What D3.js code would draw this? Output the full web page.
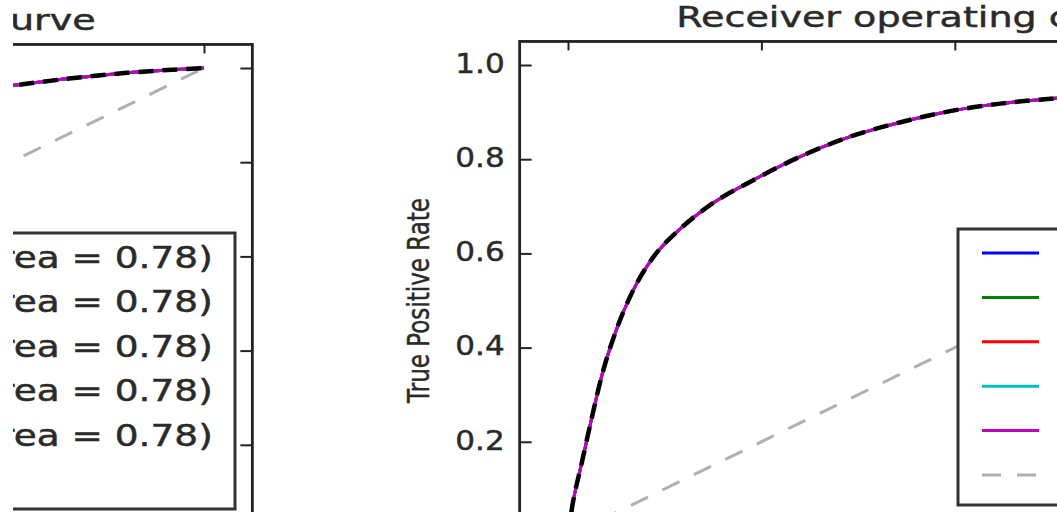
<!DOCTYPE html>
<html lang="en">
<head>
<meta charset="UTF-8">
<title>Receiver operating characteristic curve</title>
<script src="https://d3js.org/d3.v7.min.js"></script>
<style>
  body { margin: 0; background: #fff; }
  text { font-family: "DejaVu Sans", sans-serif; fill: #2a2a2a; stroke: #2a2a2a; stroke-width: 0.45px; }
</style>
</head>
<body>
<svg width="1057" height="512"></svg>
<script>
// ROC curve (false positive rate / true positive rate)
const fpr = [0, 0.0038, 0.0142, 0.0245, 0.0349, 0.0504, 0.0675, 0.0882, 0.116, 0.143, 0.192, 0.261, 0.292, 0.343, 0.395, 0.447, 0.502, 0.802, 0.858, 0.910, 1.0];
const tpr = [0, 0.055, 0.155, 0.250, 0.340, 0.440, 0.522, 0.592, 0.652, 0.697, 0.756, 0.824, 0.848, 0.878, 0.902, 0.918, 0.929, 0.963, 0.977, 0.988, 1.0];

// chance diagonal
const luckX = [0, 1];
const luckY = [0, 1];

const foldLabels = ["ROC fold 0 (area = 0.78)", "ROC fold 1 (area = 0.78)", "ROC fold 2 (area = 0.78)",
                    "ROC fold 3 (area = 0.78)", "ROC fold 4 (area = 0.78)"];
const foldColors = ["#0000ff", "#008000", "#ff0000", "#00bfbf", "#bf00bf"];
const luckLabel = "Luck";

const xTicks = [0, 0.2, 0.4, 0.6, 0.8, 1.0];
const yTicks = [0, 0.2, 0.4, 0.6, 0.8, 1.0];

const title = "Receiver operating characteristic curve";
const yLabel = "True Positive Rate";

const svg = d3.select("svg");
const W = 1057, H = 512;
const PX_X = 967, PX_Y = 471;   // pixels per unit on each axis

// two subplots, the left one only partly in the picture
const panels = [
    {id: "a", x0: -763, y0: 539, clipLeft: 13, legend: {top: 233, right: 235}},
    {id: "b", x0: 568, y0: 536, legend: {top: 229, left: 958}}
];

function styleTicks(a) {
    a.select(".domain").remove();
    a.selectAll("line").attr("stroke", "#222").attr("stroke-width", 2);
}

function drawPanel(p) {
    let g = svg.append("g");
    if (p.clipLeft != null) {
        svg.append("clipPath").attr("id", "clip" + p.id)
            .append("rect").attr("x", p.clipLeft).attr("y", 0).attr("width", W).attr("height", H);
        g.attr("clip-path", `url(#clip${p.id})`);
    }

    let x = d3.scaleLinear().domain([0, 1]).range([p.x0, p.x0 + PX_X]);
    let y = d3.scaleLinear().domain([0, 1]).range([p.y0, p.y0 - PX_Y]);
    let xl = x(-0.05), xr = x(1.05), yt = y(1.05), yb = y(0);

    let curve = d3.line()
        .x(i => x(fpr[i]))
        .y(i => y(tpr[i]))
        .curve(d3.curveMonotoneX);
    let idx = d3.range(fpr.length);

    foldColors.forEach(c => {
        g.append("path").attr("d", curve(idx))
            .attr("fill", "none").attr("stroke", c).attr("stroke-width", 3);
    });

    g.append("path")
        .attr("d", d3.line().x(i => x(luckX[i])).y(i => y(luckY[i]))([0, 1]))
        .attr("fill", "none").attr("stroke", "#b0b0b0").attr("stroke-width", 3)
        .attr("stroke-dasharray", "19,16");

    // mean curve
    g.append("path").attr("d", curve(idx))
        .attr("fill", "none").attr("stroke", "#000").attr("stroke-width", 4.5)
        .attr("stroke-dasharray", "15,9");

    // ticks pointing inwards on all four sides
    g.append("g").attr("transform", `translate(${xl},0)`)
        .call(d3.axisLeft(y).tickValues(yTicks.slice(1)).tickSizeInner(-12).tickSizeOuter(0)
            .tickPadding(13).tickFormat(d3.format(".1f")))
        .call(styleTicks)
        .call(a => a.selectAll("text")
            .attr("font-size", 27).attr("font-family", "DejaVu Sans").attr("fill", "#2a2a2a")
            .attr("dy", "0.27em").attr("transform", "scale(1.15,1)"));
    g.append("g").attr("transform", `translate(${xr},0)`)
        .call(d3.axisRight(y).tickValues(yTicks).tickSizeInner(-12).tickSizeOuter(0).tickFormat(""))
        .call(styleTicks);
    g.append("g").attr("transform", `translate(0,${yt})`)
        .call(d3.axisTop(x).tickValues(xTicks).tickSizeInner(-9).tickSizeOuter(0).tickFormat(""))
        .call(styleTicks);
    g.append("g").attr("transform", `translate(0,${yb})`)
        .call(d3.axisBottom(x).tickValues(xTicks).tickSizeInner(-9).tickSizeOuter(0).tickFormat(""))
        .call(styleTicks);

    g.append("rect")
        .attr("x", xl).attr("y", yt).attr("width", xr - xl).attr("height", yb - yt)
        .attr("fill", "none").attr("stroke", "#222").attr("stroke-width", 2.8);

    g.append("text")
        .attr("transform", `translate(${(xl + xr) / 2},${yt - 14}) scale(1.36,1)`)
        .attr("text-anchor", "middle").attr("font-size", 28)
        .text(title);

    g.append("text")
        .attr("transform", `translate(${xl - 91},${y(0.5)}) rotate(-90)`)
        .attr("text-anchor", "middle").attr("font-size", 30)
        .attr("textLength", 205).attr("lengthAdjust", "spacingAndGlyphs")
        .text(yLabel);

    // legend, lower right
    let labels = foldLabels.concat([luckLabel]);
    let lg = g.append("g");
    let box = lg.append("rect");
    let texts = lg.selectAll("text").data(labels).join("text")
        .attr("font-size", 29.5).text(d => d);
    let sx = 1.27;
    let textW = d3.max(texts.nodes(), n => n.getComputedTextLength()) * sx;
    let width = 102 + textW + 22;
    let left = p.legend.left != null ? p.legend.left : p.legend.right - width;
    let top = p.legend.top;
    let rowY = i => top + 24 + i * 44.4;
    let height = 24 + 5 * 44.4 + 30;

    box.attr("x", left).attr("y", top).attr("width", width).attr("height", height)
        .attr("fill", "#fff").attr("stroke", "#333").attr("stroke-width", 3);
    texts.attr("transform", (d, i) => `translate(${left + 102},${rowY(i) + 11}) scale(${sx},1)`);
    lg.selectAll("line").data(labels).join("line")
        .attr("x1", left + 24).attr("x2", left + 81)
        .attr("y1", (d, i) => rowY(i)).attr("y2", (d, i) => rowY(i))
        .attr("stroke", (d, i) => i < foldColors.length ? foldColors[i] : "#b0b0b0")
        .attr("stroke-width", 3)
        .attr("stroke-dasharray", (d, i) => i < foldColors.length ? null : "19,16");
}

panels.forEach(drawPanel);
</script>
</body>
</html>
